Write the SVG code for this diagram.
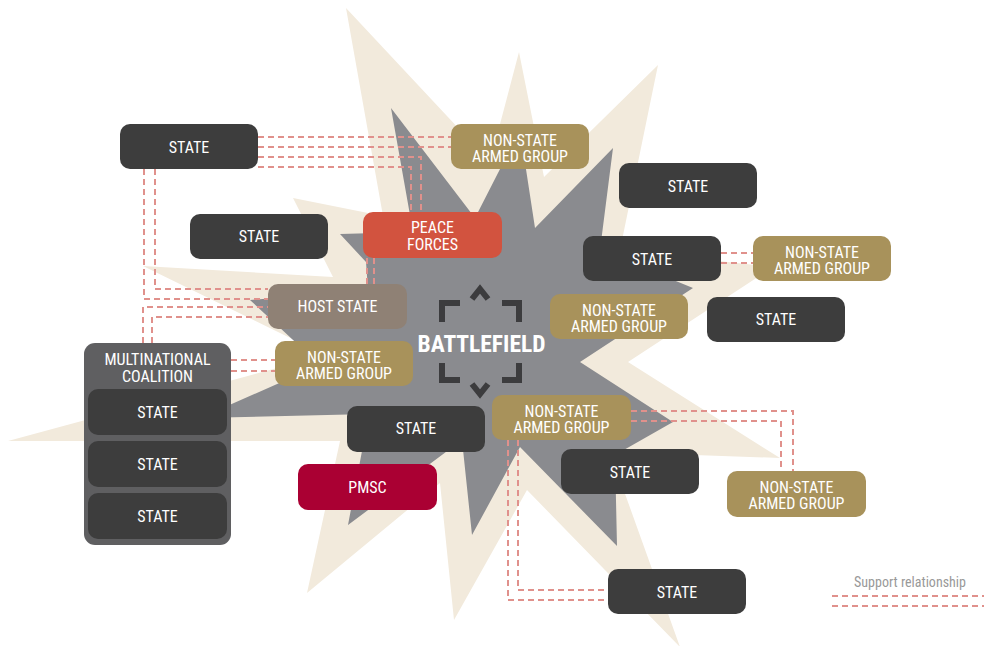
<svg xmlns="http://www.w3.org/2000/svg" width="987" height="646" viewBox="0 0 987 646">
  <style>
    text{font-family:"Liberation Sans Narrow","Roboto Condensed","DejaVu Sans Condensed","Liberation Sans",sans-serif;font-size:16px;fill:#ffffff;text-anchor:middle}
    .state{fill:#3d3d3d}
    .nsag{fill:#a8925b}
    .host{fill:#8f8175}
    .peace{fill:#d2533f}
    .pmsc{fill:#aa0033}
    .coalition{fill:#5f5f61}
    .link{fill:none;stroke:#e0918c;stroke-width:2;stroke-dasharray:6 4}
    .mark{fill:none;stroke:#3c3c3e;stroke-width:6;stroke-linejoin:miter;stroke-linecap:butt}
    .title{font-weight:bold;font-size:23.5px}
    .legend{fill:#999999;font-size:14px}
  </style>

  <!-- outer blast -->
  <polygon id="blast-outer" fill="#f2eadc" points="346,8 490,162 519,52 544,177 658,65 620,250 773,267 628,362 780,458 610,452 680,647 527,490 454,620 440,483 307,593 340,441 8,441 325,355 143,266 333,277 293,198 383,216"/>
  <!-- inner blast -->
  <polygon id="blast-inner" fill="#8a8b8f" points="391,108 475,218 520,130 535,228 613,148 600,250 693,288 580,362 673,422 615,455 617,546 520,447 472,535 462,440 348,525 369,414 200,418 320,365 250,300 368,290 366,262 340,234 413,232"/>

  <g id="connectors">
    <path class="link" d="M258,137H451M258,147H451"/>
    <path class="link" d="M258,157H421V212M258,167H411V212"/>
    <path class="link" d="M144,169V299H268M155,169V289H268"/>
    <path class="link" d="M143,343V307H268M152,343V317H268"/>
    <path class="link" d="M231,360H275M231,371H275"/>
    <path class="link" d="M367,258V284M374,258V284"/>
    <path class="link" d="M721,253H753M721,263H753"/>
    <path class="link" d="M631,411H793V471M631,421H781V471"/>
    <path class="link" d="M508,440V600H608M518,440V590H608"/>
  </g>

  <g id="battlefield">
    <path class="mark" d="M442,322V303H460M502,303H519V322M442,363V380H460M519,363V380H502"/>
    <path class="mark" d="M472,299L480,289L488,299M472,384L480,394L488,384" stroke-width="5.5"/>
    <text class="title" x="481.5" y="352">BATTLEFIELD</text>
  </g>

  <g id="state-1"><rect class="state" x="120" y="124" width="138" height="45" rx="10"/><text x="189" y="152.5">STATE</text></g>
  <g id="nsag-1"><rect class="nsag" x="451" y="124" width="138" height="45" rx="10"/><text x="520" y="145.5">NON-STATE<tspan x="520" dy="16">ARMED GROUP</tspan></text></g>
  <g id="state-2"><rect class="state" x="619" y="163" width="138" height="45" rx="10"/><text x="688" y="191.5">STATE</text></g>
  <g id="state-3"><rect class="state" x="190" y="214" width="138" height="45" rx="10"/><text x="259" y="242">STATE</text></g>
  <g id="peace-forces"><rect class="peace" x="363" y="212" width="139" height="46" rx="10"/><text x="432.5" y="233">PEACE<tspan x="432.5" dy="17">FORCES</tspan></text></g>
  <g id="state-4"><rect class="state" x="583" y="236" width="138" height="45" rx="10"/><text x="652" y="264.5">STATE</text></g>
  <g id="nsag-2"><rect class="nsag" x="753" y="236" width="138" height="45" rx="10"/><text x="822" y="257.5">NON-STATE<tspan x="822" dy="16">ARMED GROUP</tspan></text></g>
  <g id="host-state"><rect class="host" x="268" y="284" width="139" height="45" rx="10"/><text x="337.5" y="312">HOST STATE</text></g>
  <g id="nsag-3"><rect class="nsag" x="550" y="294" width="138" height="45" rx="10"/><text x="619" y="315.5">NON-STATE<tspan x="619" dy="16">ARMED GROUP</tspan></text></g>
  <g id="state-5"><rect class="state" x="707" y="297" width="138" height="45" rx="10"/><text x="776" y="325">STATE</text></g>

  <g id="multinational-coalition">
    <rect class="coalition" x="84" y="343" width="147" height="202" rx="11"/>
    <text x="157.5" y="365">MULTINATIONAL<tspan x="157.5" dy="17">COALITION</tspan></text>
    <rect class="state" x="88" y="389" width="139" height="46" rx="10"/><text x="157.5" y="418">STATE</text>
    <rect class="state" x="88" y="441" width="139" height="46" rx="10"/><text x="157.5" y="470">STATE</text>
    <rect class="state" x="88" y="493" width="139" height="46" rx="10"/><text x="157.5" y="522">STATE</text>
  </g>

  <g id="nsag-4"><rect class="nsag" x="275" y="341" width="138" height="45" rx="10"/><text x="344" y="362.5">NON-STATE<tspan x="344" dy="16">ARMED GROUP</tspan></text></g>
  <g id="state-6"><rect class="state" x="347" y="406" width="138" height="46" rx="10"/><text x="416" y="434">STATE</text></g>
  <g id="nsag-5"><rect class="nsag" x="492" y="395" width="139" height="45" rx="10"/><text x="561.5" y="416.5">NON-STATE<tspan x="561.5" dy="16">ARMED GROUP</tspan></text></g>
  <g id="pmsc"><rect class="pmsc" x="298" y="464" width="139" height="46" rx="10"/><text x="367.5" y="493">PMSC</text></g>
  <g id="state-7"><rect class="state" x="561" y="449" width="138" height="45" rx="10"/><text x="630" y="477.5">STATE</text></g>
  <g id="nsag-6"><rect class="nsag" x="727" y="471" width="139" height="46" rx="10"/><text x="796.5" y="493">NON-STATE<tspan x="796.5" dy="16">ARMED GROUP</tspan></text></g>
  <g id="state-8"><rect class="state" x="608" y="569" width="138" height="45" rx="10"/><text x="677" y="597.5">STATE</text></g>

  <g id="legend">
    <text class="legend" x="910" y="587">Support relationship</text>
    <path class="link" d="M832,596H984M832,606H984"/>
  </g>
</svg>
